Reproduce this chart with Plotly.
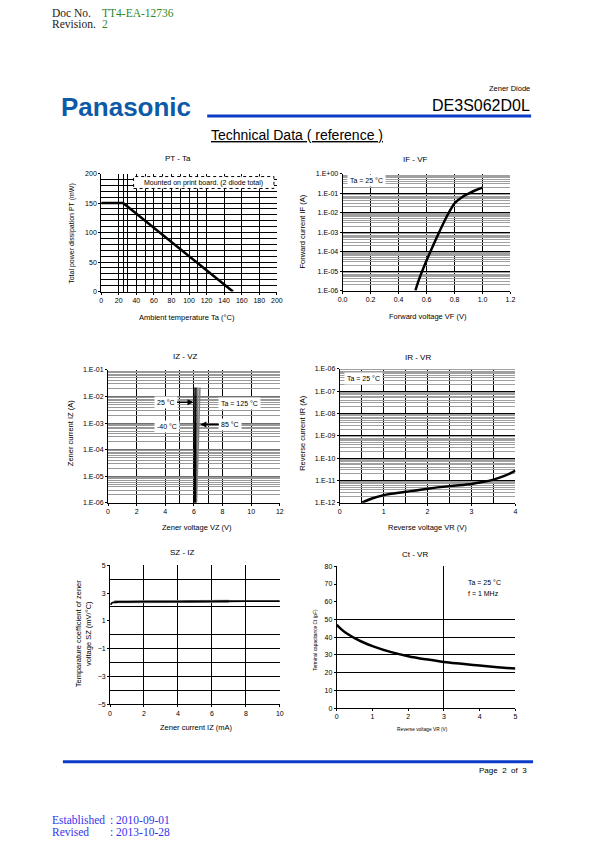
import plotly.graph_objects as go

W, H = 595, 842
SANS = "Arial, 'Liberation Sans', sans-serif"
SERIF = "'Times New Roman', 'Liberation Serif', serif"

# ---------------- data ----------------
# PT - Ta (derating)
pt_ta = [0, 25, 150]
pt_pt = [150, 150, 0]

# IF - VF
if_vf = [0.52, 0.55, 0.60, 0.65, 0.70, 0.75, 0.78, 0.80, 0.85, 0.90, 0.95, 1.00]
if_if = [1e-6, 4.5e-6, 3.5e-5, 2.3e-4, 1.4e-3, 7.5e-3, 1.8e-2, 3.0e-2, 6.0e-2, 9.5e-2, 1.4e-1, 1.9e-1]

# IZ - VZ (four temperatures)
iz_iz = [1e-6, 1e-5, 1e-4, 1e-3, 1e-2, 2.2e-2]
iz_vz_m40 = [6.04, 6.03, 6.02, 6.01, 6.00, 6.00]
iz_vz_25 = [6.10, 6.10, 6.11, 6.12, 6.13, 6.14]
iz_vz_85 = [6.14, 6.17, 6.20, 6.23, 6.27, 6.28]
iz_vz_125 = [6.18, 6.23, 6.28, 6.33, 6.39, 6.42]

# IR - VR
ir_vr = [0.5, 0.75, 1.0, 1.5, 2.0, 2.5, 3.0, 3.25, 3.5, 3.75, 4.0]
ir_ir = [1e-12, 1.6e-12, 2.2e-12, 3.1e-12, 4.3e-12, 5.6e-12, 7e-12, 8.5e-12, 1.1e-11, 1.6e-11, 2.8e-11]

# SZ - IZ
sz_iz = [0.05, 0.1, 0.2, 0.5, 1, 2, 4, 6, 8, 10]
sz_sz = [2.15, 2.28, 2.33, 2.36, 2.37, 2.38, 2.39, 2.40, 2.42, 2.42]
sz_iz_b = [0.25, 1, 3, 5, 7]
sz_sz_b = [2.38, 2.39, 2.40, 2.40, 2.41]

# Ct - VR
ct_vr = [0, 0.1, 0.25, 0.5, 0.75, 1, 1.5, 2, 2.5, 3, 3.5, 4, 4.5, 5]
ct_ct = [47, 45, 42.5, 39.5, 37, 35, 31.7, 29.3, 27.5, 26, 25, 24, 23.1, 22.3]

# tick labels
log_lbl = lambda k: "1.E%+03d" % k


def xdom(a, b):
    return [a / W, b / W]


def ydom(top, bottom):
    return [1 - bottom / H, 1 - top / H]


def minor_log(lo, hi):
    return [m * 10 ** k for k in range(lo, hi) for m in range(2, 10)]


def axis(domain, anchor, **kw):
    d = dict(domain=domain, anchor=anchor, showline=True, linecolor="black", linewidth=1,
             ticks="outside", ticklen=2, tickcolor="black", tickwidth=1,
             tickfont=dict(family=SANS, size=7, color="black"),
             showgrid=False, zeroline=False, fixedrange=True)
    d.update(kw)
    return d


def grid_minor(vals, color="black"):
    return dict(tickmode="array", tickvals=vals, showgrid=True, gridcolor=color,
                gridwidth=1, ticks="inside", ticklen=0)


fig = go.Figure()
blk = dict(color="black", width=2.5)
fig.add_trace(go.Scatter(x=pt_ta, y=pt_pt, xaxis="x", yaxis="y", mode="lines", line=blk))
fig.add_trace(go.Scatter(x=if_vf, y=if_if, xaxis="x2", yaxis="y2", mode="lines", line=dict(color="black", width=2.5, shape="spline")))
fig.add_trace(go.Scatter(x=iz_vz_125, y=iz_iz, xaxis="x3", yaxis="y3", mode="lines", line=dict(color="#808080", width=1.5)))
fig.add_trace(go.Scatter(x=iz_vz_85, y=iz_iz, xaxis="x3", yaxis="y3", mode="lines", line=dict(color="#808080", width=1.5)))
fig.add_trace(go.Scatter(x=iz_vz_25, y=iz_iz, xaxis="x3", yaxis="y3", mode="lines", line=dict(color="black", width=1.5)))
fig.add_trace(go.Scatter(x=iz_vz_m40, y=iz_iz, xaxis="x3", yaxis="y3", mode="lines", line=dict(color="black", width=1.5)))
fig.add_trace(go.Scatter(x=ir_vr, y=ir_ir, xaxis="x4", yaxis="y4", mode="lines", line=dict(color="black", width=2.5, shape="spline")))
fig.add_trace(go.Scatter(x=sz_iz_b, y=sz_sz_b, xaxis="x5", yaxis="y5", mode="lines", line=dict(color="#909090", width=3)))
fig.add_trace(go.Scatter(x=sz_iz, y=sz_sz, xaxis="x5", yaxis="y5", mode="lines", line=dict(color="black", width=1.8, shape="spline")))
fig.add_trace(go.Scatter(x=ct_vr, y=ct_ct, xaxis="x6", yaxis="y6", mode="lines", line=dict(color="black", width=2.5, shape="spline")))

layout = dict(
    width=W, height=H, autosize=False, showlegend=False,
    margin=dict(l=0, r=0, t=0, b=0, pad=0),
    paper_bgcolor="white", plot_bgcolor="white",
    font=dict(family=SANS, size=7, color="black"),
)

# 1 PT - Ta
layout["xaxis"] = axis(xdom(98, 277), "y", range=[0, 200], tickmode="array",
                       tickvals=list(range(0, 201, 20)),
                       minor=grid_minor([20, 25, 30, 40, 50, 60, 70, 80, 90, 100, 110, 120, 140, 160, 180, 200]))
layout["yaxis"] = axis(ydom(171, 290), "x", range=[0, 200], tickmode="array",
                       tickvals=[0, 50, 100, 150, 200],
                       minor=grid_minor(list(range(10, 201, 10))))
# 2 IF - VF
layout["xaxis2"] = axis(xdom(344, 515), "y2", range=[0, 1.2], tickmode="array",
                        tickvals=[0, 0.2, 0.4, 0.6, 0.8, 1.0, 1.2],
                        ticktext=["0.0", "0.2", "0.4", "0.6", "0.8", "1.0", "1.2"],
                        minor=grid_minor([0.2, 0.4, 0.6, 0.8, 1.0]))
layout["yaxis2"] = axis(ydom(171, 289), "x2", type="log", range=[-6, 0], tickmode="array",
                        tickvals=[10 ** k for k in range(-6, 1)],
                        ticktext=[log_lbl(k) for k in range(-6, 1)],
                        showgrid=True, gridcolor="black", gridwidth=1,
                        minor=dict(tickmode="array", tickvals=minor_log(-6, 0), showgrid=True,
                                   gridcolor="#a0a0a0", gridwidth=1, ticks=""))
# 3 IZ - VZ
layout["xaxis3"] = axis(xdom(105, 280), "y3", range=[0, 12], tickmode="array",
                        tickvals=list(range(0, 13, 2)),
                        minor=grid_minor([2, 4, 5, 6, 7, 8, 10, 12]))
layout["yaxis3"] = axis(ydom(369, 503), "x3", type="log", range=[-6, -1], tickmode="array",
                        tickvals=[10 ** k for k in range(-6, 0)],
                        ticktext=[log_lbl(k) for k in range(-6, 0)],
                        showgrid=True, gridcolor="#707070", gridwidth=1,
                        minor=dict(tickmode="array", tickvals=minor_log(-6, -1), showgrid=True,
                                   gridcolor="#999999", gridwidth=1, ticks=""))
# 4 IR - VR
layout["xaxis4"] = axis(xdom(341, 520), "y4", range=[0, 4], tickmode="array",
                        tickvals=[0, 1, 2, 3, 4],
                        minor=grid_minor([0.5, 1, 1.5, 2, 2.5, 3, 3.5]))
layout["yaxis4"] = axis(ydom(368, 503), "x4", type="log", range=[-12, -6], tickmode="array",
                        tickvals=[10 ** k for k in range(-12, -5)],
                        ticktext=[log_lbl(k) for k in range(-12, -5)],
                        showgrid=True, gridcolor="black", gridwidth=1,
                        minor=dict(tickmode="array", tickvals=minor_log(-12, -6), showgrid=True,
                                   gridcolor="#a0a0a0", gridwidth=1, ticks=""))
# 5 SZ - IZ
layout["xaxis5"] = axis(xdom(107, 280), "y5", range=[0, 10], tickmode="array",
                        tickvals=[0, 2, 4, 6, 8, 10],
                        minor=grid_minor([2, 4, 6, 8, 10]))
layout["yaxis5"] = axis(ydom(566, 706), "x5", range=[-5, 5], tickmode="array",
                        tickvals=[-5, -3, -1, 1, 3, 5],
                        minor=grid_minor([-4, -3, -2, -1, 0, 2, 4]))
# 6 Ct - VR
layout["xaxis6"] = axis(xdom(338, 520), "y6", range=[0, 5], tickmode="array",
                        tickvals=[0, 1, 2, 3, 4, 5],
                        minor=grid_minor([3]))
layout["yaxis6"] = axis(ydom(567, 710), "x6", range=[0, 80], tickmode="array",
                        tickvals=list(range(0, 81, 10)),
                        minor=grid_minor([10, 20, 30, 40, 50]))


def txt(x, y, s, size=7, xanchor="center", yanchor="middle", family=SANS, color="black", **kw):
    d = dict(x=x / W, y=1 - y / H, xref="paper", yref="paper", text=s, showarrow=False,
             font=dict(family=family, size=size, color=color), xanchor=xanchor, yanchor=yanchor,
             borderpad=0)
    d.update(kw)
    return d


ann = []
# page header
ann.append(txt(47, 9, "Doc No.", 11.5, "left", family=SERIF, color="#222222"))
ann.append(txt(98, 9, "TT4-EA-12736", 11.5, "left", family=SERIF, color="#2a8a2a"))
ann.append(txt(47, 20, "Revision.", 11.5, "left", family=SERIF, color="#222222"))
ann.append(txt(98, 20, "2", 11.5, "left", family=SERIF, color="#2a8a2a"))
ann.append(txt(56, 104, "<b>Panasonic</b>", 26, "left", color="#0d5aa8"))
ann.append(txt(536, 85, "Zener Diode", 7.5, "right"))
ann.append(txt(536, 102, "DE3S062D0L", 16, "right"))
ann.append(txt(297, 132, "<u>Technical Data ( reference )</u>", 14, "center"))
# footer
ann.append(txt(533, 773, "Page  2  of  3", 8, "right"))
ann.append(txt(47, 823, "Established", 11.5, "left", family=SERIF, color="#3333ee"))
ann.append(txt(106, 823, ": 2010-09-01", 11.5, "left", family=SERIF, color="#3333ee"))
ann.append(txt(47, 835, "Revised", 11.5, "left", family=SERIF, color="#3333ee"))
ann.append(txt(106, 835, ": 2013-10-28", 11.5, "left", family=SERIF, color="#3333ee"))

# chart titles
ann.append(txt(176, 156, "PT - Ta", 8))
ann.append(txt(418, 157, "IF - VF", 8))
ann.append(txt(184, 355, "IZ - VZ", 8))
ann.append(txt(421, 356, "IR - VR", 8))
ann.append(txt(181, 553, "SZ - IZ", 8))
ann.append(txt(418, 555, "Ct - VR", 8))

# axis titles
ann.append(txt(68, 231, "Total power dissipation PT (mW)", 7, textangle=-90))
ann.append(txt(185, 316, "Ambient temperature Ta (°C)", 7.5))
ann.append(txt(303, 229, "Forward current IF (A)", 7.5, textangle=-90))
ann.append(txt(431, 315, "Forward voltage VF (V)", 7.5))
ann.append(txt(67, 433, "Zener current IZ (A)", 7.5, textangle=-90))
ann.append(txt(196, 528, "Zener voltage VZ (V)", 7.5))
ann.append(txt(303, 432, "Reverse current IR (A)", 7.5, textangle=-90))
ann.append(txt(430, 528, "Reverse voltage VR (V)", 7.5))
ann.append(txt(80, 635, "Temparature coefficient of zener<br>voltage SZ (mV/°C)", 7.5, textangle=-90))
ann.append(txt(195, 730, "Zener current IZ (mA)", 7.5))
ann.append(txt(317, 641, "Terminal capacitance Ct (pF)", 4.8, textangle=-90))
ann.append(txt(425, 732, "Reverse voltage VR (V)", 4.8))

# in-chart labels
ann.append(txt(202, 180, "Mounted on print board. (2 diode total)", 7))
ann.append(txt(368, 178, "Ta = 25 °C", 7, bgcolor="white", borderpad=2))
ann.append(txt(365, 378, "Ta = 25 °C", 7, bgcolor="white", borderpad=2))
ann.append(txt(471, 583, "Ta = 25 °C", 7, "left"))
ann.append(txt(471, 594, "f = 1 MHz", 7, "left"))

f7 = dict(family=SANS, size=7, color="black")
ann.append(dict(x=5.97, y=-2.22, xref="x3", yref="y3", text="25 °C", showarrow=True,
                arrowhead=2, arrowsize=0.8, arrowwidth=1.5, arrowcolor="black",
                ax=-28, ay=0, bgcolor="white", borderpad=2, font=f7))
ann.append(dict(x=6.45, y=-3.05, xref="x3", yref="y3", text="85 °C", showarrow=True,
                arrowhead=2, arrowsize=0.8, arrowwidth=1.5, arrowcolor="black",
                ax=30, ay=0, bgcolor="white", borderpad=2, font=f7))
ann.append(dict(x=4.1, y=-3.13, xref="x3", yref="y3", text="-40 °C", showarrow=False,
                bgcolor="white", borderpad=2, font=f7))
ann.append(dict(x=9.2, y=-2.25, xref="x3", yref="y3", text="Ta = 125 °C", showarrow=False,
                bgcolor="white", borderpad=2, font=f7))

layout["annotations"] = ann

blue = "#0a3cc8"
layout["shapes"] = [
    dict(type="line", xref="paper", yref="paper", x0=206 / W, x1=536 / W,
         y0=1 - 113 / H, y1=1 - 113 / H, line=dict(color=blue, width=3)),
    dict(type="line", xref="paper", yref="paper", x0=59 / W, x1=538 / W,
         y0=1 - 764 / H, y1=1 - 764 / H, line=dict(color=blue, width=3)),
    # dotted frame of the "Mounted on print board" note
    dict(type="rect", xref="paper", yref="paper", x0=131 / W, x1=274 / W,
         y0=1 - 186 / H, y1=1 - 174 / H, fillcolor="white",
         line=dict(color="black", width=1, dash="dot"), layer="above"),
]

fig.update_layout(**layout)

fig.write_html("out.html", config=dict(displayModeBar=False, staticPlot=True),
               post_script="document.body.style.margin='0';document.body.style.padding='0';document.body.style.overflow='hidden';")
